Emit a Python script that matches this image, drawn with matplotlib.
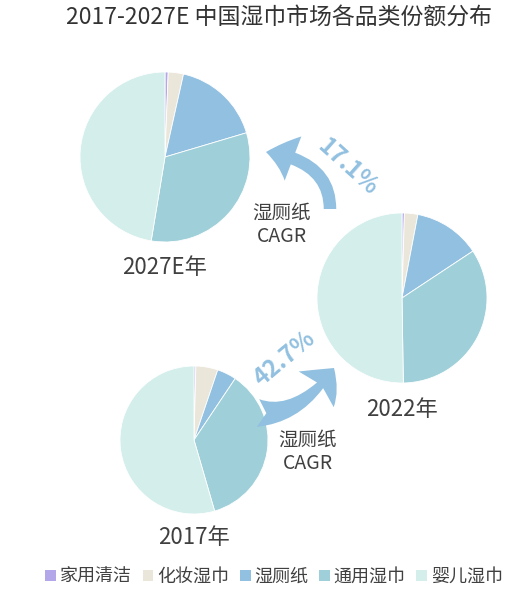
import matplotlib
matplotlib.use("Agg")
import matplotlib.pyplot as plt
from matplotlib.patches import FancyArrowPatch, Patch

plt.rcParams['font.family'] = ['Noto Sans CJK SC', 'DejaVu Sans']

# data
categories = ["家用清洁", "化妆湿巾", "湿厕纸", "通用湿巾", "婴儿湿巾"]
colors = ["#b3a7ea", "#ebe6da", "#92c0e0", "#9fd0d9", "#d3eeeb"]
share_2017 = [0.4, 4.8, 4.2, 36.1, 54.5]
share_2022 = [0.45, 2.55, 12.7, 34.05, 50.25]
share_2027 = [0.6, 2.9, 16.9, 32.2, 47.4]
cagr_17_22 = "42.7%"
cagr_22_27 = "17.1%"

W, H = 522, 592
fig = plt.figure(figsize=(W / 100, H / 100), dpi=100)
ax = fig.add_axes([0, 0, 1, 1])

text_c = "#404040"
arrow_c = "#92c0e0"

def draw_pie(vals, cx, cy, r, label, ly):
    ax.pie(vals, colors=colors, startangle=90, counterclock=False,
           center=(cx, H - cy), radius=r, frame=True,
           wedgeprops=dict(edgecolor="white", linewidth=0.6))
    ax.text(cx, H - ly, label, ha="center", va="center", fontsize=16, color=text_c)

draw_pie(share_2027, 165, 157, 85, "2027E年", 268)
draw_pie(share_2022, 402, 298, 85, "2022年", 409)
draw_pie(share_2017, 194, 440, 74, "2017年", 537)
ax.set_xlim(0, W)
ax.set_ylim(0, H)
ax.axis("off")

# arrows
up = FancyArrowPatch((330, H - 209), (266, H - 152),
                     connectionstyle="angle3,angleA=90,angleB=-8",
                     arrowstyle="simple,head_length=20,head_width=34,tail_width=9",
                     color=arrow_c, lw=0, mutation_scale=1, shrinkA=0, shrinkB=0)
ax.add_patch(up)
low = FancyArrowPatch((258, H - 413), (334, H - 368),
                      connectionstyle="angle3,angleA=-5,angleB=55",
                      arrowstyle="fancy,head_length=20,head_width=36,tail_width=20",
                      color=arrow_c, lw=0, mutation_scale=1, shrinkA=0, shrinkB=0)
ax.add_patch(low)

ax.text(348, H - 167, cagr_22_27, rotation=-42, ha="center", va="center",
        fontsize=17, color=arrow_c, fontweight="bold")
ax.text(285, H - 358, cagr_17_22, rotation=40, ha="center", va="center",
        fontsize=17, color=arrow_c, fontweight="bold")

ax.text(282, H - 225, "湿厕纸\nCAGR", ha="center", va="center", fontsize=14,
        color=text_c, linespacing=1.1)
ax.text(308, H - 452, "湿厕纸\nCAGR", ha="center", va="center", fontsize=14,
        color=text_c, linespacing=1.1)

ax.text(279, H - 17, "2017-2027E 中国湿巾市场各品类份额分布", ha="center",
        va="center", fontsize=16.5, color="#333333")

handles = [Patch(facecolor=c, edgecolor="none") for c in colors]
fig.legend(handles, categories, loc="center", bbox_to_anchor=(274 / W, 1 - 577 / H),
           ncol=5, frameon=False, fontsize=13, handlelength=0.6, handleheight=0.6,
           handletextpad=0.2, columnspacing=0.6, labelcolor=text_c)

fig.savefig("out.png", dpi=100)
